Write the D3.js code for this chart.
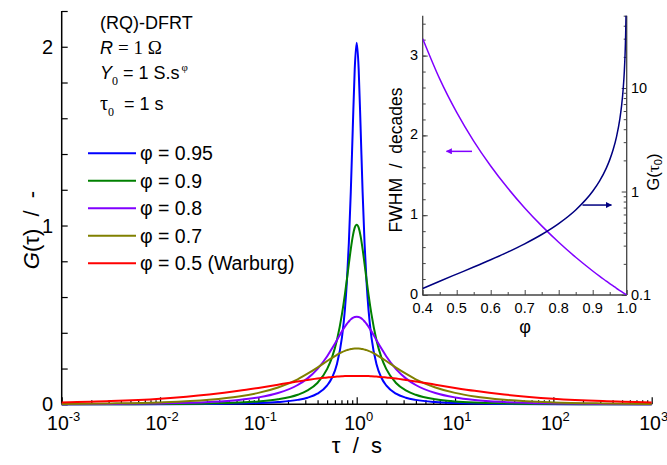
<!DOCTYPE html>
<html>
<head>
<meta charset="utf-8">
<script src="https://cdn.jsdelivr.net/npm/d3@7"></script>
<style>
body { margin: 0; background: #fff; }
svg { font-family: "Liberation Sans", Arial, sans-serif; }
text { white-space: pre; }
</style>
</head>
<body>
<svg id="chart" width="667" height="465"></svg>
<script>
// log10(tau / s) grid used for the main curves
const logTau = [-3, -2.5, -2, -1.5, -1.2, -1, -0.8, -0.6, -0.5, -0.4, -0.3, -0.25, -0.2, -0.15, -0.12, -0.1, -0.08, -0.06, -0.04, -0.02,
  0, 0.02, 0.04, 0.06, 0.08, 0.1, 0.12, 0.15, 0.2, 0.25, 0.3, 0.4, 0.5, 0.6, 0.8, 1, 1.2, 1.5, 2, 2.5, 3]

const g095 = [0.0001, 0.0002, 0.0006, 0.0020, 0.0042, 0.0071, 0.0126, 0.0248, 0.0370, 0.0593, 0.106, 0.150, 0.227, 0.374, 0.530, 0.685, 0.900, 1.189, 1.542, 1.876,
  2.022, 1.876, 1.542, 1.189, 0.900, 0.685, 0.530, 0.374, 0.227, 0.150, 0.106, 0.0593, 0.0370, 0.0248, 0.0126, 0.0071, 0.0042, 0.0020, 0.0006, 0.0002, 0.0001]
const g09 = [0.0002, 0.0006, 0.0016, 0.0048, 0.0096, 0.0160, 0.0278, 0.0531, 0.0774, 0.119, 0.198, 0.264, 0.361, 0.504, 0.615, 0.698, 0.784, 0.868, 0.939, 0.988,
  1.005, 0.988, 0.939, 0.868, 0.784, 0.698, 0.615, 0.504, 0.361, 0.264, 0.198, 0.119, 0.0774, 0.0531, 0.0278, 0.0160, 0.0096, 0.0048, 0.0016, 0.0006, 0.0002]
const g08 = [0.0007, 0.0019, 0.0049, 0.0131, 0.0246, 0.0386, 0.0629, 0.108, 0.145, 0.197, 0.269, 0.313, 0.360, 0.408, 0.434, 0.450, 0.463, 0.475, 0.483, 0.488,
  0.490, 0.488, 0.483, 0.475, 0.463, 0.450, 0.434, 0.408, 0.360, 0.313, 0.269, 0.197, 0.145, 0.108, 0.0629, 0.0386, 0.0246, 0.0131, 0.0049, 0.0019, 0.0007]
const g07 = [0.0021, 0.0047, 0.0107, 0.0254, 0.0437, 0.0638, 0.0943, 0.140, 0.171, 0.205, 0.242, 0.260, 0.277, 0.292, 0.299, 0.303, 0.306, 0.309, 0.311, 0.312,
  0.312, 0.312, 0.311, 0.309, 0.306, 0.303, 0.299, 0.292, 0.277, 0.260, 0.242, 0.205, 0.171, 0.140, 0.0943, 0.0638, 0.0437, 0.0254, 0.0107, 0.0047, 0.0021]
const g05 = [0.0101, 0.0178, 0.0315, 0.0549, 0.0752, 0.0915, 0.109, 0.128, 0.136, 0.144, 0.150, 0.153, 0.155, 0.157, 0.158, 0.158, 0.158, 0.159, 0.159, 0.159,
  0.159, 0.159, 0.159, 0.159, 0.158, 0.158, 0.158, 0.157, 0.155, 0.153, 0.150, 0.144, 0.136, 0.128, 0.109, 0.0915, 0.0752, 0.0549, 0.0315, 0.0178, 0.0101]

const seriesLabels = ['\u03c6 = 0.95', '\u03c6 = 0.9', '\u03c6 = 0.8', '\u03c6 = 0.7', '\u03c6 = 0.5 (Warburg)']
const seriesColors = ['#0000ff', '#008000', '#8000ff', '#808000', '#ff0000']
const seriesValues = [g095, g09, g08, g07, g05]

const xDecades = [-3, -2, -1, 0, 1, 2, 3]
const yTicks = [0, 1, 2]

// inset: FWHM (decades) and G(tau0) against phi
const phiFwhm = [0.4, 0.45, 0.5, 0.55, 0.6, 0.65, 0.7, 0.75, 0.8, 0.85, 0.9, 0.92, 0.94, 0.95, 0.96, 0.97, 0.98, 0.99, 1.0]
const fwhm = [3.212, 2.708, 2.288, 1.929, 1.617, 1.340, 1.091, 0.866, 0.661, 0.473, 0.301, 0.236, 0.174, 0.143, 0.114, 0.084, 0.056, 0.028, 0]
const phiG0 = [0.4, 0.45, 0.5, 0.55, 0.6, 0.65, 0.7, 0.75, 0.8, 0.85, 0.9, 0.92, 0.94, 0.95, 0.96, 0.97, 0.98, 0.985, 0.99, 0.993, 0.995, 0.997, 0.998]
const g0 = [0.1156, 0.1359, 0.1592, 0.1863, 0.2191, 0.2597, 0.3124, 0.3842, 0.4898, 0.6629, 1.005, 1.260, 1.684, 2.022, 2.530, 3.375, 5.064, 6.753, 10.13, 14.47, 20.26, 33.77, 50.66]
const insetXTicks = [0.4, 0.5, 0.6, 0.7, 0.8, 0.9, 1.0]
const insetLTicks = [0, 1, 2, 3]
const insetRTicks = [0.1, 1, 10]

const svg = d3.select('#chart')

// ---------- main plot ----------
const x = d3.scaleLog().domain([1e-3, 1e3]).range([61.7, 651.7])
const y = d3.scaleLinear().domain([0, 2.2]).range([404.3, 11])

// y axis
svg.append('g')
    .attr('transform', 'translate(61.7,0)')
    .call(d3.axisLeft(y).tickValues(d3.range(0, 2.21, 0.2)).tickSize(-6).tickFormat(''))
    .call(g => g.select('.domain').attr('stroke', '#000').attr('stroke-width', 1.5).attr('d', `M0,${y(2.2)}V${y(0)}`))
    .call(g => g.selectAll('.tick line').attr('stroke', '#000').attr('stroke-width', 1.2))

svg.append('g').selectAll('text').data(yTicks).join('text')
    .attr('x', 53).attr('y', d => y(d) + 7)
    .attr('text-anchor', 'end').attr('font-size', 20)
    .text(d => d)

// x axis: minor ticks then major ticks
const minor = []
xDecades.slice(0, -1).forEach(d => { for (let k = 2; k <= 9; k++) minor.push(k * Math.pow(10, d)) })

svg.append('g')
    .attr('transform', `translate(0,${y(0)})`)
    .call(d3.axisBottom(x).tickValues(minor).tickSize(-4).tickFormat(''))
    .call(g => g.select('.domain').remove())
    .call(g => g.selectAll('.tick line').attr('stroke', '#000').attr('stroke-width', 1.2))

svg.append('g')
    .attr('transform', `translate(0,${y(0)})`)
    .call(d3.axisBottom(x).tickValues(xDecades.map(d => Math.pow(10, d))).tickSize(-7).tickFormat(''))
    .call(g => g.select('.domain').attr('stroke', '#000').attr('stroke-width', 1.5).attr('d', `M${x(1e-3)},0H${x(1e3)}`))
    .call(g => g.selectAll('.tick line').attr('stroke', '#000').attr('stroke-width', 1.2))

const xLab = svg.append('g').selectAll('text').data(xDecades).join('text')
    .attr('x', d => x(Math.pow(10, d)) + 2).attr('y', 430)
    .attr('text-anchor', 'middle').attr('font-size', 19.5)
xLab.append('tspan').text('10')
xLab.append('tspan').attr('dy', -9).attr('font-size', 13).text(d => d)

svg.append('text')
    .attr('x', 357).attr('y', 453)
    .attr('text-anchor', 'middle').attr('font-size', 22)
    .text('\u03c4  /  s')

const yTitle = svg.append('text')
    .attr('transform', 'translate(39,230) rotate(-90)')
    .attr('text-anchor', 'middle').attr('font-size', 22)
yTitle.append('tspan').attr('font-style', 'italic').text('G')
yTitle.append('tspan').text('(\u03c4)  /  -')

// curves
const line = d3.line()
    .x(d => x(Math.pow(10, d[0])))
    .y(d => y(d[1]))
    .curve(d3.curveMonotoneX)

seriesValues.forEach((vals, i) => {
    svg.append('path')
        .datum(logTau.map((u, j) => [u, vals[j]]))
        .attr('fill', 'none')
        .attr('stroke', seriesColors[i])
        .attr('stroke-width', 2)
        .attr('d', line)
})

// parameter block
const note = svg.append('g').attr('font-size', 18)
note.append('text').attr('x', 100).attr('y', 29).text('(RQ)-DFRT')
const rLine = note.append('text').attr('x', 100).attr('y', 54)
rLine.append('tspan').attr('font-style', 'italic').text('R ')
rLine.append('tspan').attr('font-family', '"Liberation Serif", serif').attr('font-size', 19).text('= 1 \u03a9')
const yLine = note.append('text').attr('x', 100).attr('y', 79)
yLine.append('tspan').attr('font-style', 'italic').text('Y')
yLine.append('tspan').attr('dy', 6).attr('font-size', 12).attr('font-family', '"Liberation Serif", serif').text('0')
yLine.append('tspan').attr('dy', -6).text(' = 1 S.s')
yLine.append('tspan').attr('dy', -8).attr('dx', 2).attr('font-size', 11).attr('font-family', '"Liberation Serif", serif').text('\u03c6')
const tLine = note.append('text').attr('x', 100).attr('y', 110)
tLine.append('tspan').attr('font-family', '"Liberation Serif", serif').attr('font-size', 20).text('\u03c4')
tLine.append('tspan').attr('dy', 6).attr('font-size', 12).attr('font-family', '"Liberation Serif", serif').text('0')
tLine.append('tspan').attr('dy', -6).text('  = 1 s')

// legend
const legend = svg.append('g')
seriesLabels.forEach((lab, i) => {
    const ly = 153.3 + i * 27.5
    legend.append('line')
        .attr('x1', 88).attr('x2', 136).attr('y1', ly).attr('y2', ly)
        .attr('stroke', seriesColors[i]).attr('stroke-width', 2)
    legend.append('text')
        .attr('x', 140).attr('y', ly + 7)
        .attr('font-size', 19.5)
        .text(lab)
})

// ---------- inset ----------
const ix = d3.scaleLinear().domain([0.4, 1.0]).range([422.7, 626.7])
const iyL = d3.scaleLinear().domain([0, 3.5]).range([295, 15.7])
const iyR = d3.scaleLog().domain([0.1, 50]).range([295, 15.7])
const axisCol = '#444'

svg.append('defs').append('clipPath').attr('id', 'inset-clip')
    .append('rect').attr('x', 422.7).attr('y', 15.7).attr('width', 204).attr('height', 279.3)

svg.append('g')
    .attr('transform', 'translate(422.7,0)')
    .call(d3.axisLeft(iyL).tickValues(d3.range(0, 3.41, 0.2)).tickSize(-3).tickFormat(''))
    .call(g => g.select('.domain').remove())
    .call(g => g.selectAll('.tick line').attr('stroke', axisCol))
svg.append('g')
    .attr('transform', 'translate(422.7,0)')
    .call(d3.axisLeft(iyL).tickValues(insetLTicks).tickSize(-5).tickFormat(''))
    .call(g => g.select('.domain').attr('stroke', axisCol).attr('stroke-width', 1.3).attr('d', `M0,${iyL(3.5)}V${iyL(0)}`))
    .call(g => g.selectAll('.tick line').attr('stroke', axisCol))

const rMinor = []
;[0.1, 1, 10].forEach(d => { for (let k = 2; k <= 9; k++) if (k * d <= 50) rMinor.push(k * d) })
svg.append('g')
    .attr('transform', 'translate(626.7,0)')
    .call(d3.axisRight(iyR).tickValues(rMinor).tickSize(-3).tickFormat(''))
    .call(g => g.select('.domain').remove())
    .call(g => g.selectAll('.tick line').attr('stroke', axisCol))
svg.append('g')
    .attr('transform', 'translate(626.7,0)')
    .call(d3.axisRight(iyR).tickValues(insetRTicks).tickSize(-5).tickFormat(''))
    .call(g => g.select('.domain').attr('stroke', axisCol).attr('stroke-width', 1.3).attr('d', `M0,${iyR(50)}V${iyR(0.1)}`))
    .call(g => g.selectAll('.tick line').attr('stroke', axisCol))

svg.append('g')
    .attr('transform', 'translate(0,295)')
    .call(d3.axisBottom(ix).tickValues(d3.range(0.45, 1.0, 0.1)).tickSize(-3).tickFormat(''))
    .call(g => g.select('.domain').remove())
    .call(g => g.selectAll('.tick line').attr('stroke', axisCol))
svg.append('g')
    .attr('transform', 'translate(0,295)')
    .call(d3.axisBottom(ix).tickValues(insetXTicks).tickSize(-5).tickFormat(''))
    .call(g => g.select('.domain').attr('stroke', axisCol).attr('stroke-width', 1.3).attr('d', `M${ix(0.4)},0H${ix(1.0)}`))
    .call(g => g.selectAll('.tick line').attr('stroke', axisCol))

svg.append('g').selectAll('text').data(insetLTicks).join('text')
    .attr('x', 418).attr('y', d => iyL(d) + 4)
    .attr('text-anchor', 'end').attr('font-size', 14.5).text(d => d)
svg.append('g').selectAll('text').data(insetRTicks).join('text')
    .attr('x', 631).attr('y', d => iyR(d) + 5)
    .attr('font-size', 14.5).text(d => d)
svg.append('g').selectAll('text').data(insetXTicks).join('text')
    .attr('x', d => ix(d)).attr('y', 313)
    .attr('text-anchor', 'middle').attr('font-size', 14.5).text(d => d.toFixed(1))

svg.append('text')
    .attr('transform', 'translate(402,160) rotate(-90)')
    .attr('text-anchor', 'middle').attr('font-size', 17.5)
    .text('FWHM  /  decades')
svg.append('text')
    .attr('x', 525).attr('y', 333)
    .attr('text-anchor', 'middle').attr('font-size', 18)
    .text('\u03c6')
const g0Title = svg.append('text')
    .attr('transform', 'translate(659,172) rotate(-90)')
    .attr('text-anchor', 'middle').attr('font-size', 16.5)
g0Title.append('tspan').text('G(')
g0Title.append('tspan').attr('font-family', '"Liberation Serif", serif').attr('font-size', 17.5).text('\u03c4')
g0Title.append('tspan').attr('dy', 3).attr('font-size', 11).text('0')
g0Title.append('tspan').attr('dy', -3).text(')')

const insetPlot = svg.append('g').attr('clip-path', 'url(#inset-clip)')
insetPlot.append('path')
    .datum(phiFwhm.map((p, i) => [p, fwhm[i]]))
    .attr('fill', 'none').attr('stroke', '#8000ff').attr('stroke-width', 1.5)
    .attr('d', d3.line().x(d => ix(d[0])).y(d => iyL(d[1])).curve(d3.curveMonotoneX))
insetPlot.append('path')
    .datum(phiG0.map((p, i) => [p, g0[i]]))
    .attr('fill', 'none').attr('stroke', '#000080').attr('stroke-width', 1.5)
    .attr('d', d3.line().x(d => ix(d[0])).y(d => iyR(d[1])).curve(d3.curveMonotoneX))

// arrows pointing to the axis each curve belongs to
const defs = svg.select('defs')
defs.append('marker').attr('id', 'arrowP').attr('viewBox', '0 0 10 10')
    .attr('refX', 9).attr('refY', 5).attr('markerWidth', 8).attr('markerHeight', 6)
    .attr('markerUnits', 'userSpaceOnUse').attr('orient', 'auto')
    .append('path').attr('d', 'M0,0L10,5L0,10Z').attr('fill', '#8000ff')
defs.append('marker').attr('id', 'arrowB').attr('viewBox', '0 0 10 10')
    .attr('refX', 9).attr('refY', 5).attr('markerWidth', 8).attr('markerHeight', 6)
    .attr('markerUnits', 'userSpaceOnUse').attr('orient', 'auto')
    .append('path').attr('d', 'M0,0L10,5L0,10Z').attr('fill', '#000080')

svg.append('line')
    .attr('x1', ix(0.545)).attr('x2', ix(0.47)).attr('y1', iyL(1.8)).attr('y2', iyL(1.8))
    .attr('stroke', '#8000ff').attr('stroke-width', 1.5).attr('marker-end', 'url(#arrowP)')
svg.append('line')
    .attr('x1', ix(0.87)).attr('x2', ix(0.955)).attr('y1', iyR(0.74)).attr('y2', iyR(0.74))
    .attr('stroke', '#000080').attr('stroke-width', 1.5).attr('marker-end', 'url(#arrowB)')
</script>
</body>
</html>
